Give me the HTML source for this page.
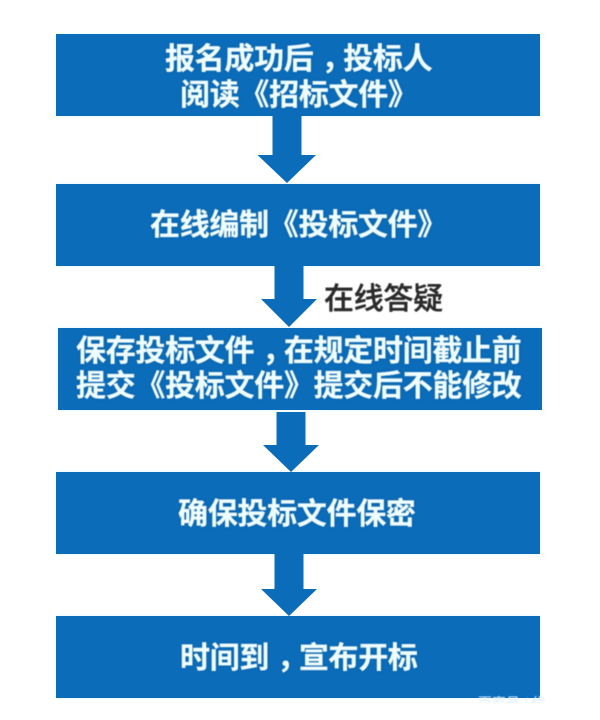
<!DOCTYPE html>
<html lang="zh">
<head>
<meta charset="utf-8">
<style>
html,body{margin:0;padding:0;background:#fff}
#p{position:relative;width:600px;height:720px;overflow:hidden;background:#fff;font-family:"Liberation Sans","Noto Sans CJK SC",sans-serif}
.b{position:absolute;background:#0b6cb9;box-shadow:0 0 3px #d6f4ff}
svg{position:absolute;left:0;top:0}
.t{position:absolute;white-space:nowrap;font-size:30px;line-height:30px;font-weight:700;letter-spacing:-.3px;color:#eefdff;-webkit-text-stroke:.3px #eefdff;text-shadow:0 0 2px #0a4f8c;filter:blur(.4px)}
.t i{font-style:normal;position:relative;left:8px}
.d{color:#2a2a2a;font-weight:500;-webkit-text-stroke:.4px #2a2a2a;text-shadow:none}
.w{position:absolute;left:478px;top:696px;width:68px;height:7px;overflow:hidden;white-space:nowrap;font-size:14px;line-height:14px;color:#dfeffa;filter:blur(.4px)}
</style>
</head>
<body>
<div id="p">
<div class="b" style="left:56px;top:34px;width:484px;height:82px"></div>
<div class="b" style="left:56px;top:184px;width:484px;height:82px"></div>
<div class="b" style="left:58px;top:328px;width:484px;height:82px"></div>
<div class="b" style="left:56px;top:472px;width:484px;height:82px"></div>
<div class="b" style="left:56px;top:616px;width:484px;height:82px"></div>
<svg width="600" height="720" viewBox="0 0 600 720">
<g fill="#0b6cb9">
<polygon points="272.5,116 301.5,116 301.5,155 316,155 287,183 257.5,155 272.5,155"/>
<polygon points="274.5,266 303.5,266 303.5,299 317,299 289,327 261,299 274.5,299"/>
<polygon points="276.5,412 305.5,412 305.5,445 319,445 291,472 263,445 276.5,445"/>
<polygon points="274.5,554 303.5,554 303.5,589 317,589 289,616 261,589 274.5,589"/>
</g>
</svg>
<div class="t" style="left:165px;top:45px">报名成功后<i>，</i>投标人</div>
<div class="t" style="left:180px;top:81px">阅读《招标文件》</div>
<div class="t" style="left:150px;top:211px">在线编制《投标文件》</div>
<div class="t d" style="left:324px;top:285px">在线答疑</div>
<div class="t" style="left:76px;top:337px">保存投标文件<i>，</i>在规定时间截止前</div>
<div class="t" style="left:76px;top:372px">提交《投标文件》提交后不能修改</div>
<div class="t" style="left:178px;top:500px">确保投标文件保密</div>
<div class="t" style="left:180px;top:644px">时间到<i>，</i>宣布开标</div>
<div class="w">百家号 / 优</div>
</div>
</body>
</html>
